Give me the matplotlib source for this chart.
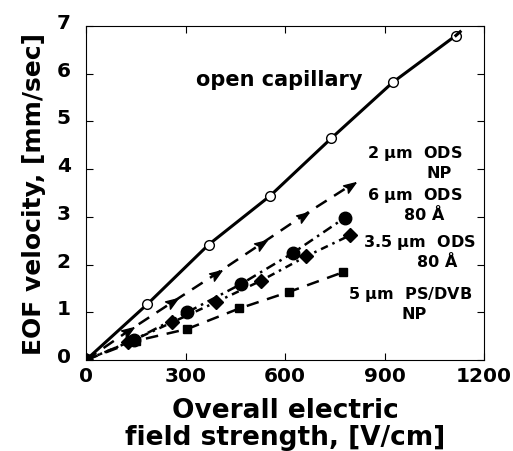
import numpy as np
import matplotlib
matplotlib.use("Agg")
import matplotlib.pyplot as plt
import matplotlib.transforms as mtransforms

plt.rcParams['font.family'] = ['DejaVu Sans']
plt.rcParams['font.weight'] = 'bold'
plt.rcParams['mathtext.default'] = 'bf'

# field strength [V/cm] and EOF velocity [mm/sec]
open_x = [0, 185, 370, 555, 740, 925, 1115]
open_y = [0, 1.17, 2.42, 3.44, 4.65, 5.82, 6.80]

ods2_x = [0, 128, 260, 391, 527, 653, 795]
ods2_y = [0, 0.61, 1.21, 1.80, 2.43, 3.02, 3.65]

ods6_x = [0, 145, 305, 467, 623, 780]
ods6_y = [0, 0.42, 1.00, 1.59, 2.24, 2.98]

ods35_x = [0, 128, 260, 391, 527, 663, 795]
ods35_y = [0, 0.37, 0.79, 1.21, 1.66, 2.17, 2.61]

psdvb_x = [0, 150, 305, 462, 613, 775]
psdvb_y = [0, 0.40, 0.65, 1.08, 1.43, 1.84]

# arrowhead marker pointing along the 2 um line
ang = np.deg2rad(34)
head = np.array([[1.0, 0.0], [-0.8, 0.65], [-0.45, 0.0], [-0.8, -0.65], [1.0, 0.0]])
rot = np.array([[np.cos(ang), -np.sin(ang)], [np.sin(ang), np.cos(ang)]])
arrow = head @ rot.T

fig = plt.figure(figsize=(5.13, 4.52), dpi=100)
ax = fig.add_axes([0.1676, 0.2013, 0.776, 0.739])

ax.plot(open_x, open_y, color='black', lw=2.2, marker='o', ms=7,
        mfc='white', mec='black', mew=1.0)
ax.plot([open_x[-1], 1128], [open_y[-1], 6.88], color='black', lw=2.2)
ax.plot(ods2_x, ods2_y, color='black', lw=1.8, ls=(0, (5, 3.5)),
        marker=arrow, ms=10, mfc='black', mec='black')
ax.plot(ods6_x, ods6_y, color='black', lw=1.8, ls=(0, (4, 2, 1, 2)),
        marker='o', ms=9, mfc='black', mec='black')
ax.plot(ods35_x, ods35_y, color='black', lw=1.8, ls=(0, (3, 2, 1, 2)),
        marker='D', ms=7, mfc='black', mec='black')
ax.plot(psdvb_x, psdvb_y, color='black', lw=1.8, ls=(0, (5, 3.5)),
        marker='s', ms=6, mfc='black', mec='black')

ax.text(582, 5.89, 'open capillary', fontsize=15, ha='center', va='center')
lbl = dict(fontsize=11.5, ha='center', va='center')
ax.text(991, 4.34, '2 $\\mu$m  ODS', **lbl)
ax.text(1064, 3.94, 'NP', **lbl)
ax.text(991, 3.46, '6 $\\mu$m  ODS', **lbl)
ax.text(1018, 3.05, '80 Å', **lbl)
ax.text(1006, 2.49, '3.5 $\\mu$m  ODS', **lbl)
ax.text(1058, 2.07, '80 Å', **lbl)
ax.text(976, 1.40, '5 $\\mu$m  PS/DVB', **lbl)
ax.text(988, 0.98, 'NP', **lbl)

ax.set_xlim(0, 1200)
ax.set_ylim(0, 7)
ax.set_xticks([0, 300, 600, 900, 1200])
ax.set_yticks(range(0, 8))
ax.tick_params(direction='in', length=5, width=0.8, top=True, right=True,
               labelsize=14.5, pad=4)
ax.tick_params(axis='y', pad=11)
shift = mtransforms.ScaledTranslation(0, 4 / 72, fig.dpi_scale_trans)
for t in ax.get_yticklabels():
    t.set_transform(t.get_transform() + shift)
for s in ax.spines.values():
    s.set_linewidth(0.8)

ax.set_xlabel('Overall electric\nfield strength, [V/cm]', fontsize=19,
              fontweight='bold', linespacing=1.05, labelpad=9)
ax.set_ylabel('EOF velocity, [mm/sec]', fontsize=18, fontweight='bold',
              labelpad=8)

fig.savefig('out.png', dpi=100)
